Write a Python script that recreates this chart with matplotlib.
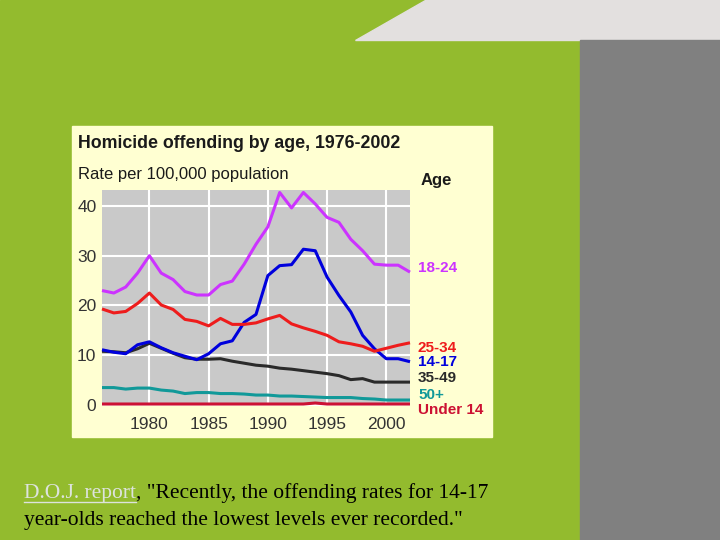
import numpy as np
import matplotlib
matplotlib.use("Agg")
import matplotlib.pyplot as plt
from matplotlib.patches import Rectangle, Polygon

years = list(range(1976, 2003))

age_18_24 = [23, 22.5, 23.7, 26.5, 30, 26.5, 25.2, 22.8, 22.1, 22.1, 24.2, 24.9, 28.3, 32.3,
             35.8, 42.7, 39.6, 42.7, 40.4, 37.7, 36.7, 33.3, 31, 28.3, 28.1, 28.1, 26.7]
age_25_34 = [19.3, 18.5, 18.8, 20.4, 22.5, 20.1, 19.2, 17.2, 16.8, 15.9, 17.4, 16.2, 16.2, 16.5,
             17.3, 18, 16.3, 15.5, 14.8, 14, 12.7, 12.3, 11.8, 10.8, 11.4, 12, 12.5]
age_14_17 = [11.1, 10.6, 10.3, 12.1, 12.7, 11.5, 10.5, 9.8, 9.1, 10.3, 12.3, 12.9, 16.6, 18.2,
             26, 28, 28.2, 31.3, 31, 25.7, 22, 18.7, 14, 11.3, 9.3, 9.3, 8.7]
age_35_49 = [10.8, 10.7, 10.5, 11.3, 12.4, 11.4, 10.4, 9.5, 9.2, 9.2, 9.3, 8.8, 8.4, 8.0,
             7.8, 7.4, 7.2, 6.9, 6.6, 6.3, 5.9, 5.1, 5.3, 4.6, 4.6, 4.6, 4.6]
age_50_up = [3.5, 3.5, 3.2, 3.4, 3.4, 3.0, 2.8, 2.3, 2.5, 2.5, 2.3, 2.3, 2.2, 2.0,
             2.0, 1.8, 1.8, 1.7, 1.6, 1.5, 1.5, 1.5, 1.3, 1.2, 1.0, 1.0, 1.0]
under_14 = [0.2, 0.2, 0.2, 0.2, 0.2, 0.2, 0.2, 0.2, 0.2, 0.2, 0.2, 0.2, 0.2, 0.2,
            0.2, 0.2, 0.2, 0.2, 0.4, 0.2, 0.2, 0.2, 0.2, 0.2, 0.2, 0.2, 0.2]

series = [
    ("Under 14", under_14, "#cc1133", 410),
    ("50+", age_50_up, "#119999", 395),
    ("35-49", age_35_49, "#2a2a2a", 378),
    ("14-17", age_14_17, "#0000dd", 362),
    ("25-34", age_25_34, "#ee1c1c", 348),
    ("18-24", age_18_24, "#cc33ff", 268),
]

W, H = 720, 540
fig = plt.figure(figsize=(7.2, 5.4), dpi=100)

# slide background in pixel coords
bg = fig.add_axes([0, 0, 1, 1], zorder=0)
bg.set_xlim(0, W)
bg.set_ylim(H, 0)
bg.axis("off")
bg.add_patch(Rectangle((0, 0), W, H, color="#93bb2e"))
bg.add_patch(Polygon([(425, 0), (720, 0), (720, 40), (355, 40)], closed=True, color="#e3e0df"))
bg.add_patch(Rectangle((580, 40), 140, 500, color="#808080"))
bg.add_patch(Rectangle((72, 126), 420, 311, color="#ffffd2"))

sans = "Liberation Sans"
bg.text(78, 143, "Homicide offending by age, 1976-2002", fontsize=12.8, fontweight="bold",
        family=sans, color="#1a1a1a", va="center", ha="left")
bg.text(78, 175, "Rate per 100,000 population", fontsize=12, family=sans,
        color="#1a1a1a", va="center", ha="left")
bg.text(421, 181, "Age", fontsize=12, fontweight="bold", family=sans,
        color="#1a1a1a", va="center", ha="left")
for name, vals, col, ypx in series:
    bg.text(418, ypx, name, fontsize=11, fontweight="bold", family=sans,
            color=col, va="center", ha="left")

# caption with underlined link
serif = "Liberation Serif"
link = bg.text(24, 498, "D.O.J. report", fontsize=15.5, family=serif, color="#dde3dd",
               va="baseline", ha="left")
fig.canvas.draw()
ext = link.get_window_extent()
x_end = ext.x1 * W / fig.bbox.width
bg.plot([24, x_end], [502, 502], color="#dde3dd", lw=1)
bg.text(x_end, 498, ', "Recently, the offending rates for 14-17', fontsize=15.5, family=serif,
        color="black", va="baseline", ha="left")
bg.text(24, 525, 'year-olds reached the lowest levels ever recorded."', fontsize=15.5,
        family=serif, color="black", va="baseline", ha="left")

# chart
ax = fig.add_axes([102 / W, 1 - 406 / H, 308 / W, 216 / H], zorder=1)
ax.set_facecolor("#c9c9c9")
ax.set_xlim(1976, 2002)
ax.set_ylim(-0.2, 43.2)
ax.set_xticks([1980, 1985, 1990, 1995, 2000])
ax.set_yticks([0, 10, 20, 30, 40])
ax.grid(True, color="white", lw=1.5)
ax.set_axisbelow(True)
for s in ax.spines.values():
    s.set_visible(False)
ax.tick_params(length=0, labelsize=12.5, labelcolor="#333333", pad=4)
ax.tick_params(axis="x", pad=8)
for lab in ax.get_xticklabels() + ax.get_yticklabels():
    lab.set_family(sans)

for name, vals, col, ypx in series:
    ax.plot(years, vals, color=col, lw=2.2, solid_capstyle="butt", clip_on=False)

fig.savefig("out.png", dpi=100)
